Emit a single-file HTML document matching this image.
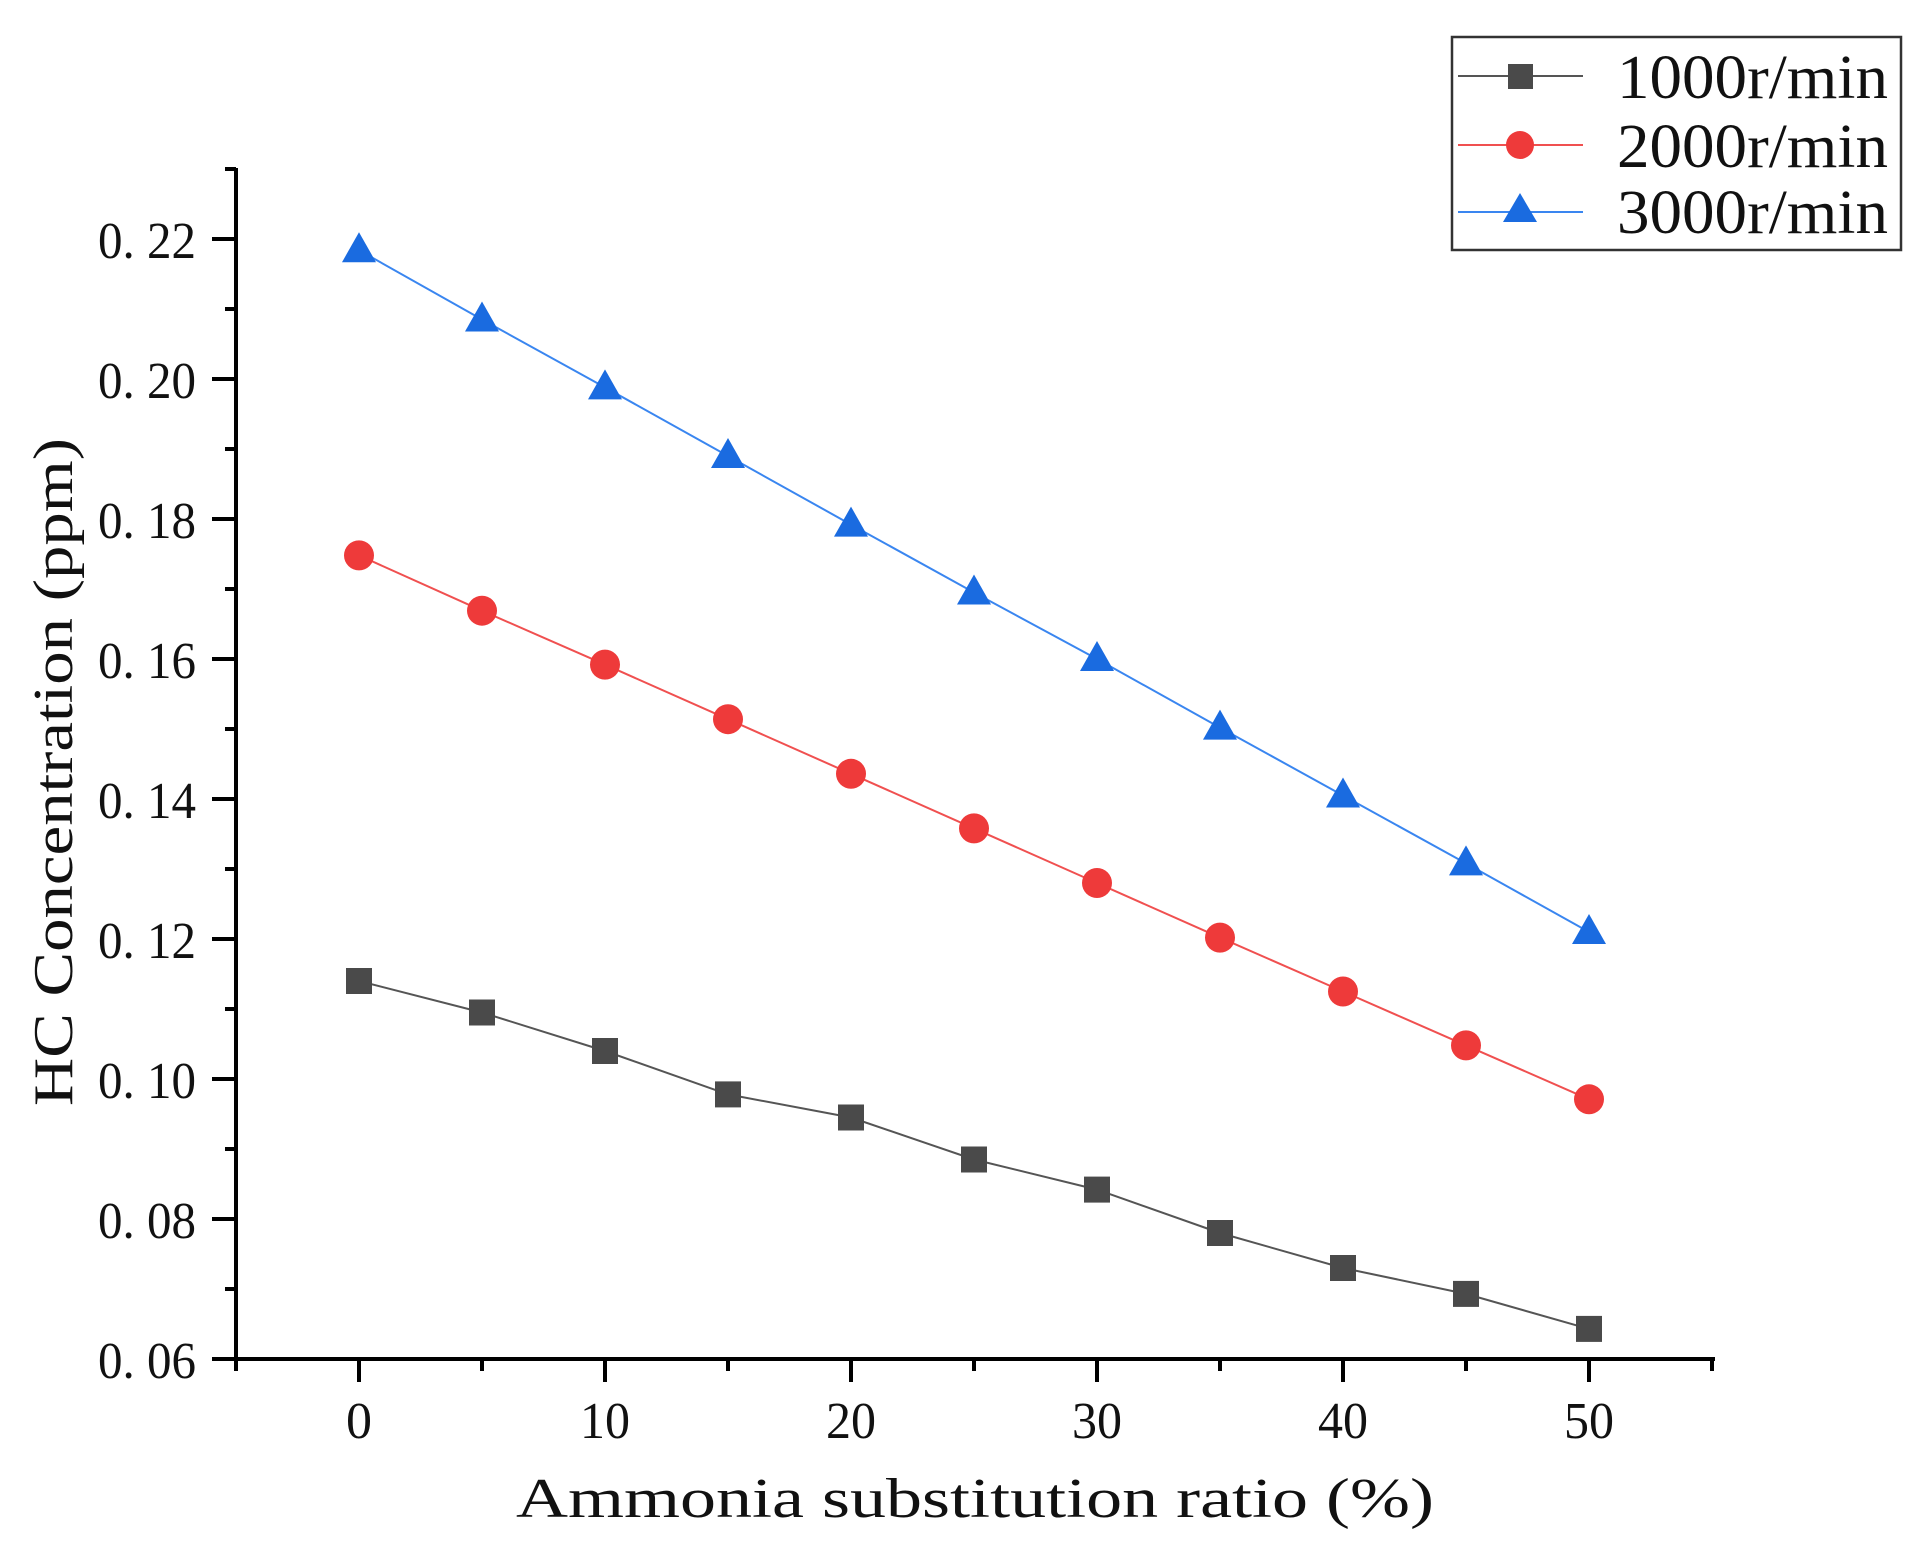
<!DOCTYPE html>
<html><head><meta charset="utf-8"><style>html,body{margin:0;padding:0;background:#fff}svg{display:block}</style></head>
<body>
<svg width="1931" height="1560" viewBox="0 0 1931 1560" xmlns="http://www.w3.org/2000/svg" font-family="'Liberation Serif', serif">
<rect width="1931" height="1560" fill="#fff"/>
<g id="plot"></g>
<g stroke="#000" stroke-width="4" fill="none">
<line x1="236" y1="168" x2="236" y2="1361"/>
<line x1="234" y1="1359" x2="1715" y2="1359"/>
</g>
<g id="ticks" stroke="#000" stroke-width="4"></g>
<g id="labels" font-size="52" fill="#111"></g>
<text x="975" y="1517" font-size="56" text-anchor="middle" textLength="918" lengthAdjust="spacingAndGlyphs" fill="#111">Ammonia substitution ratio (%)</text>
<text transform="translate(72,772) rotate(-90)" font-size="56" text-anchor="middle" textLength="668" lengthAdjust="spacingAndGlyphs" fill="#111">HC Concentration (ppm)</text>
<rect x="1452" y="37" width="449" height="213" fill="#fff" stroke="#333" stroke-width="2.5"/>
<line x1="1458" y1="76" x2="1583" y2="76" stroke="#555" stroke-width="2"/>
<rect x="1508" y="64" width="25" height="25" fill="#4a4a4a"/>
<line x1="1458" y1="145" x2="1583" y2="145" stroke="#f05050" stroke-width="2"/>
<circle cx="1520" cy="145" r="14" fill="#ee3a3a"/>
<line x1="1458" y1="212" x2="1583" y2="212" stroke="#3a86f0" stroke-width="2"/>
<polygon points="1520,193 1537,222 1503,222" fill="#1a6be0"/>
<g font-size="62" fill="#111">
<text x="1617" y="98" textLength="271" lengthAdjust="spacingAndGlyphs">1000r/min</text>
<text x="1617" y="167" textLength="271" lengthAdjust="spacingAndGlyphs">2000r/min</text>
<text x="1617" y="233" textLength="271" lengthAdjust="spacingAndGlyphs">3000r/min</text>
</g>
<script>
(function(){
var NS="http://www.w3.org/2000/svg";
function X(v){return 359+v*24.6;}
function Y(v){return 1359-(v-0.06)*7000;}
function el(p,t,a){var e=document.createElementNS(NS,t);for(var k in a)e.setAttribute(k,a[k]);p.appendChild(e);return e;}
var tk=document.getElementById('ticks'),lb=document.getElementById('labels'),pl=document.getElementById('plot');
for(var i=0;i<=8;i++){var v=0.06+i*0.02,y=Y(v);el(tk,'line',{x1:212,y1:y,x2:236,y2:y});
 var t=el(lb,'text',{x:196,y:y+19,'text-anchor':'end',textLength:98,lengthAdjust:'spacingAndGlyphs'});t.textContent=v.toFixed(2).replace('.','. ');
 if(i<8){var ym=Y(v+0.01);el(tk,'line',{x1:225,y1:ym,x2:236,y2:ym});}}
var ytop=Y(0.23);el(tk,'line',{x1:225,y1:ytop,x2:236,y2:ytop});
for(var v=-5;v<=55;v+=5){var x=X(v),maj=(v%10===0);el(tk,'line',{x1:x,y1:1359,x2:x,y2:maj?1382:1371});
 if(maj&&v>=0&&v<=50){var a={x:x,y:1438,'text-anchor':'middle'};if(v>0){a.textLength=50;a.lengthAdjust='spacingAndGlyphs';}var t=el(lb,'text',a);t.textContent=v;}}
var d1=[0.114,0.1095,0.104,0.0978,0.0945,0.0885,0.0842,0.078,0.073,0.0693,0.0643];
var d2=[0.1748,0.1669,0.1592,0.1514,0.1436,0.1358,0.128,0.1202,0.1125,0.1048,0.0971];
var d3=[0.2184,0.2085,0.1988,0.189,0.1792,0.1695,0.16,0.1502,0.1405,0.1308,0.121];
function line(d,c){var p=d.map(function(v,i){return X(i*5)+','+Y(v);}).join(' ');el(pl,'polyline',{points:p,fill:'none',stroke:c,'stroke-width':2});}
line(d1,'#555');line(d2,'#f05050');line(d3,'#3a86f0');
d1.forEach(function(v,i){el(pl,'rect',{x:X(i*5)-13,y:Y(v)-13,width:26,height:26,fill:'#4a4a4a'});});
d2.forEach(function(v,i){el(pl,'circle',{cx:X(i*5),cy:Y(v),r:15,fill:'#ee3a3a'});});
d3.forEach(function(v,i){var x=X(i*5),y=Y(v);el(pl,'polygon',{points:x+','+(y-18)+' '+(x+17)+','+(y+12)+' '+(x-17)+','+(y+12),fill:'#1a6be0'});});
})();
</script>
</svg>
</body></html>
